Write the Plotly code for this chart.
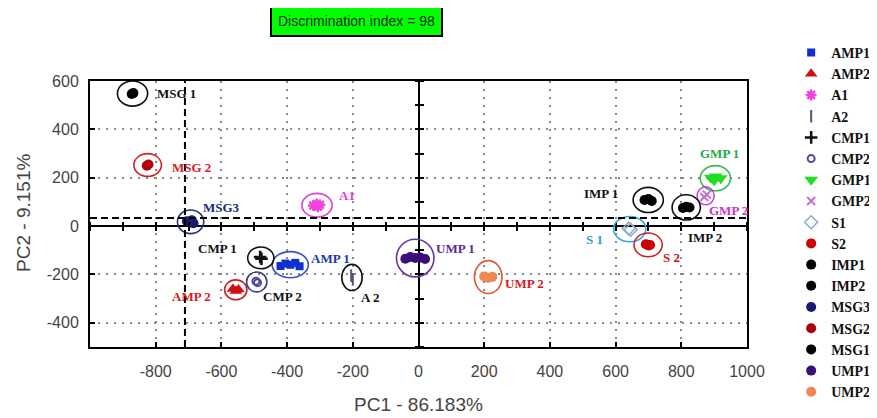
import plotly.graph_objects as go

# ---------------- data ----------------
groups = ["AMP1", "AMP2", "A1", "A2", "CMP1", "CMP2", "GMP1", "GMP2", "S1", "S2",
          "IMP1", "IMP2", "MSG3", "MSG2", "MSG1", "UMP1", "UMP2"]

amp1_x = [-420, -405, -390, -375, -362]
amp1_y = [-165, -155, -160, -152, -166]
amp2_x = [-565, -556, -548]
amp2_y = [-260, -268, -262]
a1_x = [-320, -310, -300, -306]
a1_y = [85, 92, 88, 80]
a2_x = [-205, -200]
a2_y = [-205, -220]
cmp1_x = [-482, -478]
cmp1_y = [-128, -135]
cmp2_x = [-495, -490]
cmp2_y = [-228, -234]
gmp1_x = [890, 905, 920, 900]
gmp1_y = [200, 205, 198, 190]
gmp2_x = [870, 878]
gmp2_y = [120, 130]
s1_x = [640, 646]
s1_y = [-10, -15]
s2_x = [692, 700, 705]
s2_y = [-75, -80, -78]
imp1_x = [688, 700, 710]
imp1_y = [108, 112, 104]
imp2_x = [805, 815, 825]
imp2_y = [75, 80, 77]
msg3_x = [-705, -695, -685, -690]
msg3_y = [20, 15, 12, 24]
msg2_x = [-827, -822]
msg2_y = [250, 255]
msg1_x = [-873, -868]
msg1_y = [546, 550]
ump1_x = [-40, -25, -10, 5, 20]
ump1_y = [-135, -128, -132, -130, -136]
ump2_x = [200, 212, 225]
ump2_y = [-208, -214, -210]

# confidence ellipse half-widths (data units), in group order
ell_rx = [55, 34, 46, 31, 40, 31, 46, 26, 49, 43, 46, 43, 40, 42, 46, 57, 42]
ell_ry = [54, 41, 49, 54, 45, 41, 52, 37, 52, 49, 52, 52, 49, 47, 52, 78, 68]

# cluster labels
label_text = ["AMP 1", "AMP 2", "A1", "A 2", "CMP 1", "CMP 2", "GMP 1", "GMP 2", "S 1", "S 2",
              "IMP 1", "IMP 2", "MSG3", "MSG 2", "MSG 1", "UMP 1", "UMP 2"]
label_x = [-332, -757, -249, -182, -677, -480, 852, 877, 505, 738,
           498, 815, -662, -757, -803, 46, 258]
label_y = [-132, -293, 128, -297, -91, -293, 301, 66, -54, -128,
           136, -49, 78, 243, 548, -91, -239]

# threshold (dashed) lines
thr_x = -711
thr_y = 33

x_ticks = [-800, -600, -400, -200, 0, 200, 400, 600, 800, 1000]
y_ticks = [-400, -200, 0, 200, 400, 600]

title_text = "Discrimination index = 98"
x_title = "PC1 - 86.183%"
y_title = "PC2 - 9.151%"

# ---------------- styles ----------------
pts_x = [amp1_x, amp2_x, a1_x, a2_x, cmp1_x, cmp2_x, gmp1_x, gmp2_x, s1_x, s2_x,
         imp1_x, imp2_x, msg3_x, msg2_x, msg1_x, ump1_x, ump2_x]
pts_y = [amp1_y, amp2_y, a1_y, a2_y, cmp1_y, cmp2_y, gmp1_y, gmp2_y, s1_y, s2_y,
         imp1_y, imp2_y, msg3_y, msg2_y, msg1_y, ump1_y, ump2_y]

marker_styles = [
    dict(symbol="square", size=8, color="#1030d0"),
    dict(symbol="triangle-up", size=11, color="#d01010"),
    dict(symbol="asterisk-open", size=9, color="#ee44dd", line=dict(color="#ee44dd", width=2.5)),
    dict(symbol="line-ns-open", size=9, color="#555577", line=dict(color="#555577", width=2)),
    dict(symbol="cross-thin-open", size=9, color="#111111", line=dict(color="#111111", width=2.5)),
    dict(symbol="circle-open", size=7, color="#4a4a99", line=dict(color="#4a4a99", width=2)),
    dict(symbol="triangle-down", size=12, color="#22dd22"),
    dict(symbol="x-thin-open", size=8, color="#c070d0", line=dict(color="#c070d0", width=2)),
    dict(symbol="diamond-open", size=10, color="#88aacc", line=dict(color="#88aacc", width=1.5)),
    dict(symbol="circle", size=10, color="#cc0000"),
    dict(symbol="circle", size=10, color="#000000"),
    dict(symbol="circle", size=10, color="#000000"),
    dict(symbol="circle", size=10, color="#1a1a70"),
    dict(symbol="circle", size=10, color="#b00010"),
    dict(symbol="circle", size=10, color="#000000"),
    dict(symbol="circle", size=10, color="#3a0f7a"),
    dict(symbol="circle", size=10, color="#ee8855"),
]
ell_colors = ["#3355cc", "#cc2222", "#e040d0", "#111111", "#111111", "#334488", "#33bb55", "#cc44cc",
              "#33aadd", "#cc2222", "#111111", "#111111", "#223377", "#cc2222", "#111111", "#6633aa", "#e05533"]
label_colors = ["#1a3aaa", "#d42020", "#e040d0", "#111111", "#111111", "#111111", "#22aa44", "#cc33cc",
                "#2aa0d0", "#cc1010", "#111111", "#111111", "#1a2a7a", "#d42020", "#111111", "#5a2a9a", "#d42020"]

x_range = [-1000, 1000]
y_range = [-500, 600]

fig = go.Figure()

for g, xs, ys, ms in zip(groups, pts_x, pts_y, marker_styles):
    fig.add_trace(go.Scatter(x=xs, y=ys, mode="markers", name="<b>" + g + "</b>",
                             marker=ms, cliponaxis=False))

# ellipses around clusters
for xs, ys, rx, ry, c in zip(pts_x, pts_y, ell_rx, ell_ry, ell_colors):
    cx = sum(xs) / len(xs)
    cy = sum(ys) / len(ys)
    fig.add_shape(type="circle", xref="x", yref="y", x0=cx - rx, x1=cx + rx,
                  y0=cy - ry, y1=cy + ry, line=dict(color=c, width=1.6), layer="above")

# cluster labels
for t, lx, ly, c in zip(label_text, label_x, label_y, label_colors):
    fig.add_annotation(x=lx, y=ly, text="<b>" + t + "</b>", showarrow=False, xanchor="left",
                       yanchor="middle", font=dict(family="Liberation Serif, Times New Roman, serif",
                                                   size=13, color=c))

# threshold dashed lines
fig.add_vline(x=thr_x, line=dict(color="black", width=2, dash="7px,4px"))
fig.add_hline(y=thr_y, line=dict(color="black", width=2, dash="7px,4px"))

# overlay axes to draw crossing ticks on the zero lines
px0 = (0 - y_range[0]) / (y_range[1] - y_range[0])
py0 = (0 - x_range[0]) / (x_range[1] - x_range[0])
tick_common = dict(showgrid=False, zeroline=False, showline=False, showticklabels=False,
                   tick0=0, dtick=100, ticklen=4, tickwidth=2, tickcolor="black", automargin=False)
for ax in ["x2", "x3"]:
    fig.add_trace(go.Scatter(x=[None], y=[None], xaxis=ax, yaxis="y", showlegend=False, hoverinfo="skip"))
for ax in ["y2", "y3"]:
    fig.add_trace(go.Scatter(x=[None], y=[None], xaxis="x", yaxis=ax, showlegend=False, hoverinfo="skip"))

tick_font = dict(family="Liberation Sans Narrow, Arial Narrow, Liberation Sans, Arial, sans-serif",
                 size=16, color="#444444")
title_font = dict(family="Liberation Sans, Arial, sans-serif", size=19, color="#444444")

fig.update_layout(
    width=877, height=418,
    margin=dict(l=82, r=138, t=73, b=79, autoexpand=False),
    paper_bgcolor="white", plot_bgcolor="white",
    showlegend=True,
    legend=dict(xref="container", yref="container", x=0.893, y=0.9306, xanchor="left", yanchor="top",
                maxheight=400,
                font=dict(family="Liberation Serif, Times New Roman, serif", size=14, color="#111111"),
                bgcolor="rgba(0,0,0,0)", itemsizing="trace"),
    xaxis=dict(range=x_range, tickvals=x_ticks, ticktext=[str(v) for v in x_ticks], automargin=False,
               showgrid=True, gridcolor="#888888", gridwidth=2, griddash="2px,6px",
               zeroline=True, zerolinecolor="black", zerolinewidth=2,
               showline=True, mirror=True, linecolor="black", linewidth=2,
               ticks="inside", ticklen=5, tickwidth=1.5, tickcolor="black",
               tickfont=tick_font, ticklabelstandoff=9),
    yaxis=dict(range=y_range, tickvals=y_ticks, ticktext=[str(v) for v in y_ticks], automargin=False,
               showgrid=True, gridcolor="#888888", gridwidth=2, griddash="2px,6px",
               zeroline=True, zerolinecolor="black", zerolinewidth=2,
               showline=True, mirror=True, linecolor="black", linewidth=2,
               ticks="inside", ticklen=5, tickwidth=1.5, tickcolor="black",
               tickfont=tick_font, ticklabelstandoff=6),
    xaxis2=dict(overlaying="x", anchor="free", position=px0, range=x_range, ticks="outside", **tick_common),
    xaxis3=dict(overlaying="x", anchor="free", position=px0, range=x_range, ticks="outside", side="top",
                **tick_common),
    yaxis2=dict(overlaying="y", anchor="free", position=py0, range=y_range, ticks="outside", **tick_common),
    yaxis3=dict(overlaying="y", anchor="free", position=py0, range=y_range, ticks="outside", side="right",
                **tick_common),
)

# axis titles
fig.add_annotation(xref="paper", yref="paper", x=0.5, y=-0.218, xanchor="center", yanchor="middle",
                   text=x_title, showarrow=False, font=title_font)
fig.add_annotation(xref="paper", yref="paper", x=-0.1005, y=0.504, xanchor="center", yanchor="middle",
                   text=y_title, textangle=-90, showarrow=False, font=title_font)

# title box
fig.add_annotation(xref="paper", yref="paper", x=0.4056, y=1.2237, xanchor="center", yanchor="middle",
                   text=title_text, showarrow=False, bgcolor="#00ff00", bordercolor="black",
                   borderwidth=2, borderpad=6,
                   font=dict(family="Liberation Sans Narrow, Arial Narrow, Liberation Sans, Arial, sans-serif",
                             size=14, color="#1a2a1a"))

fig.write_html("out.html")
